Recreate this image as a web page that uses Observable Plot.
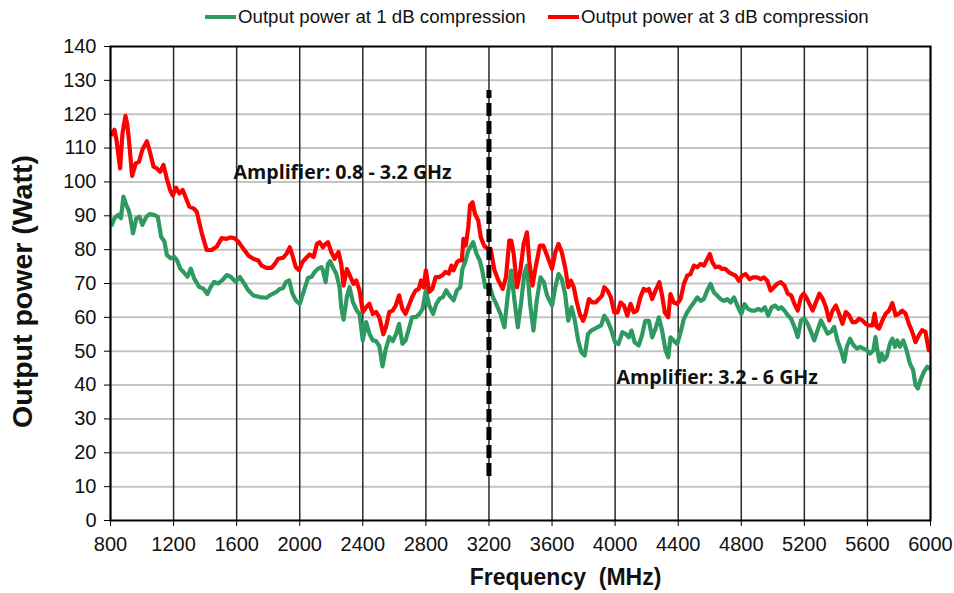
<!DOCTYPE html>
<html>
<head>
<meta charset="utf-8">
<script src="https://cdn.jsdelivr.net/npm/d3@7"></script>
<script src="https://cdn.jsdelivr.net/npm/@observablehq/plot@0.6"></script>
<style>
  html, body { margin: 0; padding: 0; background: #fff; }
  #wrap { position: relative; width: 954px; height: 593px; overflow: hidden; }
  #legend { position: relative; width: 954px; height: 36px; font-family: "Liberation Sans", Arial, sans-serif; font-size: 18.7px; color: #111; }
  .item { position: absolute; top: 6px; display: flex; align-items: center; white-space: nowrap; }
  .sw { display: inline-block; width: 31px; height: 4px; margin-right: 2px; }
</style>
</head>
<body>
<div id="wrap">
  <div id="legend"></div>
  <div id="chart"></div>
</div>
<script>
// ---- Data ----
const xTicks = [800, 1200, 1600, 2000, 2400, 2800, 3200, 3600, 4000, 4400, 4800, 5200, 5600, 6000];
const yTicks = [0, 10, 20, 30, 40, 50, 60, 70, 80, 90, 100, 110, 120, 130, 140];

const seriesNames = ["Output power at 1 dB compression", "Output power at 3 dB compression"];
const seriesColors = ["#2e9a62", "#ff0000"];

const freqGreen = [808, 825, 850, 866, 882, 893, 904, 915, 925, 943, 964, 985, 1002, 1027, 1048, 1079, 1100, 1121, 1142, 1158, 1183, 1204, 1221, 1242, 1263, 1288, 1309, 1330, 1362, 1389, 1414, 1436, 1457, 1482, 1510, 1537, 1562, 1594, 1621, 1642, 1674, 1705, 1747, 1789, 1810, 1831, 1852, 1874, 1895, 1912, 1933, 1954, 1975, 2000, 2021, 2053, 2074, 2095, 2116, 2137, 2147, 2164, 2179, 2193, 2210, 2232, 2253, 2263, 2278, 2299, 2316, 2337, 2362, 2379, 2400, 2421, 2442, 2463, 2484, 2505, 2525, 2545, 2568, 2590, 2612, 2630, 2651, 2671, 2692, 2713, 2738, 2759, 2779, 2800, 2821, 2846, 2866, 2887, 2908, 2929, 2949, 2976, 2997, 3018, 3032, 3049, 3069, 3100, 3121, 3142, 3157, 3177, 3204, 3225, 3246, 3273, 3298, 3318, 3341, 3362, 3383, 3403, 3424, 3441, 3461, 3482, 3503, 3527, 3548, 3569, 3600, 3621, 3641, 3662, 3683, 3703, 3724, 3745, 3766, 3786, 3807, 3828, 3849, 3869, 3890, 3911, 3931, 3952, 3973, 4000, 4021, 4046, 4067, 4087, 4104, 4124, 4149, 4170, 4191, 4214, 4235, 4256, 4277, 4298, 4320, 4337, 4351, 4372, 4394, 4415, 4436, 4457, 4478, 4500, 4521, 4542, 4563, 4584, 4605, 4626, 4648, 4669, 4690, 4711, 4732, 4754, 4775, 4800, 4821, 4842, 4866, 4887, 4908, 4929, 4950, 4971, 4993, 5014, 5035, 5053, 5074, 5095, 5116, 5137, 5158, 5179, 5200, 5221, 5242, 5263, 5284, 5305, 5326, 5347, 5368, 5389, 5410, 5432, 5453, 5469, 5490, 5511, 5533, 5554, 5575, 5596, 5617, 5638, 5651, 5663, 5676, 5690, 5705, 5722, 5743, 5758, 5775, 5789, 5806, 5827, 5848, 5869, 5890, 5905, 5920, 5937, 5958, 5979, 5994];
const powerGreen = [87.3, 89.3, 90.3, 89.3, 95.7, 94.2, 92.7, 91.7, 89.7, 84.8, 89.3, 89.7, 87.3, 89.7, 90.5, 90.2, 89.7, 83.8, 82.4, 78.4, 77.4, 77.9, 76.9, 74.4, 73.4, 72, 74.4, 71.5, 69, 68.5, 66.9, 69, 70.5, 70, 71, 72.5, 72, 70.5, 71.9, 70.4, 68, 66.5, 66, 65.8, 66.5, 67, 67.5, 68.4, 68.7, 70.4, 70.9, 67, 65, 64, 67, 71.7, 71.9, 73.4, 74.4, 74.8, 73.9, 70.4, 75.8, 76.6, 74.8, 72.9, 68.9, 63, 59.3, 66, 68.9, 64.5, 62, 61, 53.2, 58.6, 55.2, 53.2, 53, 51.5, 45.5, 50.5, 54.2, 53, 55.2, 58.1, 52.2, 53.2, 56.6, 60.1, 60.1, 61, 62.5, 68, 63.5, 61, 64, 65.5, 66, 68, 66.5, 65, 68, 68.9, 74.4, 76.3, 79.8, 82.2, 78.8, 76.8, 73.9, 68.9, 69.4, 66, 64, 61, 57.1, 66, 73.8, 64.9, 57.1, 64, 72.8, 75.3, 64, 56.1, 64.9, 71.8, 70.4, 66.4, 63.5, 68.9, 72.8, 71.3, 66.9, 59, 63, 59, 53.1, 49.7, 48.7, 55.1, 56.1, 56.6, 57.1, 57.6, 60.5, 59, 56.6, 52.6, 52.1, 55.6, 55.1, 54.1, 56.1, 52.6, 51.7, 54.6, 59, 59, 54.1, 56.6, 60, 56.1, 50.2, 48.2, 54.1, 53.1, 52.1, 55.6, 59.5, 61.5, 63, 64.4, 65.9, 64.9, 65.4, 67.9, 69.9, 67.4, 66.4, 65.4, 64.9, 65.4, 64.4, 65.9, 63.5, 61, 63.9, 62.5, 62, 62, 62.5, 62, 63, 60.5, 63, 63.5, 62.5, 63, 62, 60.6, 59.6, 57.2, 54.2, 59.1, 59.6, 58.1, 55.7, 53.2, 56.2, 59.1, 57.2, 55.2, 55.7, 57.2, 53.2, 50.3, 46.9, 51.3, 53.7, 51.8, 50.8, 51.3, 50.8, 50.3, 49.3, 50.3, 54.2, 50.3, 46.9, 49.3, 47.4, 48.3, 52.3, 53.7, 51.3, 53.2, 51.3, 53.2, 50.3, 46.4, 44.4, 40, 39, 41.5, 43.9, 45.4, 44.9];

const freqRed = [808, 825, 838, 861, 876, 885, 895, 905, 915, 937, 960, 981, 1002, 1031, 1052, 1073, 1094, 1115, 1136, 1157, 1178, 1195, 1216, 1237, 1258, 1279, 1300, 1326, 1347, 1379, 1410, 1442, 1474, 1505, 1536, 1560, 1585, 1610, 1642, 1674, 1705, 1737, 1758, 1789, 1821, 1842, 1863, 1895, 1916, 1937, 1954, 1975, 1996, 2017, 2042, 2063, 2088, 2109, 2126, 2147, 2164, 2179, 2200, 2221, 2246, 2263, 2278, 2299, 2322, 2341, 2358, 2379, 2400, 2421, 2442, 2463, 2484, 2505, 2530, 2547, 2568, 2589, 2609, 2630, 2651, 2671, 2692, 2713, 2734, 2755, 2769, 2785, 2800, 2821, 2841, 2862, 2883, 2904, 2924, 2945, 2962, 2976, 2997, 3011, 3028, 3038, 3053, 3069, 3080, 3096, 3111, 3132, 3148, 3169, 3190, 3210, 3235, 3260, 3287, 3308, 3329, 3341, 3357, 3378, 3399, 3420, 3441, 3455, 3476, 3496, 3523, 3544, 3569, 3600, 3621, 3641, 3662, 3683, 3703, 3720, 3738, 3755, 3776, 3797, 3813, 3834, 3855, 3876, 3897, 3917, 3931, 3952, 3973, 3994, 4015, 4035, 4056, 4077, 4098, 4118, 4139, 4160, 4181, 4200, 4214, 4235, 4256, 4281, 4298, 4315, 4337, 4351, 4372, 4394, 4415, 4436, 4457, 4478, 4500, 4521, 4542, 4563, 4584, 4601, 4616, 4637, 4658, 4679, 4700, 4722, 4743, 4764, 4785, 4806, 4827, 4853, 4874, 4901, 4923, 4944, 4965, 4986, 5007, 5028, 5050, 5074, 5095, 5116, 5137, 5158, 5179, 5196, 5211, 5232, 5253, 5274, 5295, 5316, 5337, 5358, 5379, 5400, 5421, 5442, 5463, 5484, 5505, 5526, 5547, 5568, 5589, 5610, 5632, 5646, 5659, 5674, 5695, 5716, 5737, 5758, 5779, 5800, 5821, 5842, 5863, 5884, 5905, 5926, 5947, 5968, 5989];
const powerRed = [114, 115.4, 112.4, 104, 114.4, 116.8, 119.5, 117.3, 113.4, 101.8, 105.5, 106, 109.5, 112, 108.5, 104.5, 104, 103, 105, 101, 97.6, 96, 98.3, 96.6, 97.6, 95.2, 92.7, 92.2, 91.2, 84.8, 79.9, 79.9, 80.9, 83.4, 83.2, 83.6, 83.4, 82.4, 80.3, 78.3, 77.3, 76.8, 75.3, 74.6, 74.6, 75.8, 77.3, 77.6, 78.8, 80.7, 78.3, 74.8, 73.9, 76.3, 77.6, 78.6, 77.8, 81.7, 82.2, 80.7, 81.7, 82.2, 79.3, 77.3, 79.3, 75.8, 69.4, 74.3, 71.9, 69.9, 70.9, 68, 61.6, 63, 64, 61, 61.6, 60, 55, 57.2, 61.6, 62, 63.5, 66.5, 62.5, 61, 63.5, 66, 67.9, 68.4, 70.9, 68.9, 73.9, 67.5, 68.4, 71.9, 71.9, 72.4, 73.4, 72.9, 75.3, 73.9, 76.3, 76.8, 76.8, 83.2, 81.2, 86.7, 93.1, 94, 90.6, 88.6, 83.7, 81.2, 80.3, 80.3, 73.9, 70.9, 68.4, 71.9, 82.7, 82.7, 78.7, 68.9, 73.8, 81.7, 85.1, 76.8, 69.4, 74.8, 81.2, 81.2, 78.2, 74.3, 79.2, 81.7, 79.2, 74.8, 68.9, 70.8, 68.9, 64.9, 61, 59, 61, 65.4, 64.4, 64.4, 65.4, 66.4, 68.9, 67.9, 65.9, 61.5, 61.5, 64.4, 63.5, 60.5, 64, 61.5, 62, 65.9, 68.4, 67.9, 68.4, 65.4, 67.9, 70.4, 66.4, 61.5, 60, 66.9, 64.4, 64, 65.4, 69.9, 72.3, 72.8, 75.3, 74.8, 75.8, 75.3, 77.2, 78.7, 76.3, 74.8, 75, 74.3, 74.3, 73.3, 72.8, 72.3, 70.8, 72.3, 72.8, 71.3, 71.8, 71.8, 71.3, 71.8, 70.8, 67.9, 68.9, 69.9, 70.4, 69.4, 67, 66.5, 64, 62, 66, 67, 66, 64, 62, 64.5, 67, 65.5, 63, 59.1, 62, 63.5, 61, 58.1, 61.6, 60.6, 58.6, 58.6, 59.6, 59.1, 58.1, 57.6, 57.6, 61.1, 57.2, 56.7, 59.1, 61.1, 62, 64.2, 60.6, 61.1, 62, 61.1, 58.1, 55.7, 52.7, 54.7, 56.2, 55.7, 50.3];

const dividerFreq = [3200];
const dividerSpan = [13, 127];

const annoText = ["Amplifier: 0.8 - 3.2 GHz", "Amplifier: 3.2 - 6 GHz"];
const annoFreq = [1580, 4009];
const annoPower = [102.8, 42.2];

const xTitle = "Frequency\u00a0\u00a0(MHz)";
const yTitle = "Output power (Watt)";

// ---- Build tables ----
const green = freqGreen.map((f, i) => ({f, p: powerGreen[i]}));
const red = freqRed.map((f, i) => ({f, p: powerRed[i]}));
const annos = annoText.map((t, i) => ({t, f: annoFreq[i], p: annoPower[i]}));

// ---- Legend ----
const legend = document.getElementById("legend");
const legendLeft = [205, 548];
seriesNames.forEach((name, i) => {
  const it = document.createElement("div");
  it.className = "item";
  it.style.left = legendLeft[i] + "px";
  const sw = document.createElement("span");
  sw.className = "sw";
  sw.style.background = seriesColors[i];
  const tx = document.createElement("span");
  tx.textContent = name;
  it.appendChild(sw);
  it.appendChild(tx);
  legend.appendChild(it);
});

// ---- Chart ----
const chart = Plot.plot({
  width: 954,
  height: 557,
  marginTop: 10,
  marginLeft: 110,
  marginRight: 24,
  marginBottom: 73,
  style: {fontFamily: "'Liberation Sans', Arial, sans-serif", background: "white", color: "#111"},
  x: {domain: [800, 6000]},
  y: {domain: [0, 140]},
  marks: [
    Plot.ruleY(yTicks.slice(1, -1), {stroke: "#c4c4c4", strokeWidth: 2}),
    Plot.ruleX(xTicks, {stroke: "#2a2a2a", strokeWidth: 1.5}),
    Plot.line(green, {x: "f", y: "p", stroke: seriesColors[0], strokeWidth: 4.2, strokeLinejoin: "round"}),
    Plot.line(red, {x: "f", y: "p", stroke: seriesColors[1], strokeWidth: 4.2, strokeLinejoin: "round"}),
    Plot.ruleX(dividerFreq, {y1: dividerSpan[0], y2: dividerSpan[1], stroke: "#000", strokeWidth: 5, strokeDasharray: "13,5"}),
    Plot.frame({stroke: "#000", strokeWidth: 2}),
    Plot.axisX({ticks: xTicks, tickFormat: d => String(d), tickSize: 6, tickPadding: 10, fontSize: 20, label: null, stroke: "#000"}),
    Plot.axisY({ticks: yTicks, tickFormat: d => String(d), tickSize: 6, tickPadding: 8, fontSize: 20, label: null, stroke: "#000"}),
    Plot.text(annos, {x: "f", y: "p", text: "t", textAnchor: "start", lineAnchor: "middle", fontFamily: "'Open Sans', Lato, sans-serif", fontWeight: "bold", fontSize: 19.6, fill: "#111"}),
    Plot.text([xTitle], {frameAnchor: "bottom", dx: 45, dy: 57, lineAnchor: "middle", fontWeight: "bold", fontSize: 23, fill: "#111"}),
    Plot.text([yTitle], {frameAnchor: "left", textAnchor: "middle", rotate: -90, dx: -88, dy: 8, lineAnchor: "middle", fontWeight: "bold", fontSize: 28.5, fill: "#111"})
  ]
});
document.getElementById("chart").appendChild(chart);
</script>
</body>
</html>
